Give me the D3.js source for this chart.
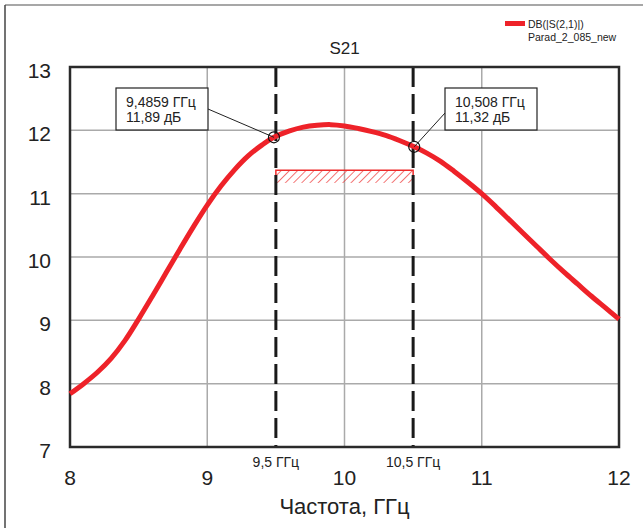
<!DOCTYPE html>
<html>
<head>
<meta charset="utf-8">
<script src="https://cdn.jsdelivr.net/npm/d3@7"></script>
<style>
  body { margin: 0; background: #fff; }
  svg { display: block; font-family: "Liberation Sans", Arial, sans-serif; }
</style>
</head>
<body>
<svg id="chart" width="643" height="528"></svg>
<script>
// S21 data
var freq = [8.0, 8.1, 8.2, 8.3, 8.4, 8.5, 8.6, 8.7, 8.8, 8.9, 9.0, 9.1, 9.2, 9.3, 9.4, 9.4859,
            9.6, 9.7, 9.8, 9.9, 10.0, 10.1, 10.2, 10.3, 10.4, 10.508, 10.6, 10.7, 10.8, 10.9,
            11.0, 11.1, 11.2, 11.3, 11.4, 11.5, 11.6, 11.7, 11.8, 11.9, 12.0];
var s21  = [7.84, 8.0, 8.18, 8.4, 8.68, 9.02, 9.38, 9.75, 10.12, 10.48, 10.82, 11.12, 11.38, 11.6, 11.77, 11.89,
            11.99, 12.05, 12.08, 12.09, 12.07, 12.03, 11.98, 11.92, 11.84, 11.74, 11.64, 11.51, 11.35, 11.18,
            11.0, 10.8, 10.59, 10.38, 10.17, 9.96, 9.76, 9.57, 9.38, 9.2, 9.02];

var xTicks = [8, 9, 10, 11, 12];
var yTicks = [7, 8, 9, 10, 11, 12, 13];

// markers
var markFreq = [9.4859, 10.508];
var markVal = [11.89, 11.74];
var markText = [["9,4859 ГГц", "11,89 дБ"], ["10,508 ГГц", "11,32 дБ"]];

// band limits (dashed lines) and spec box
var bandFreq = [9.5, 10.5];
var bandText = ["9,5 ГГц", "10,5 ГГц"];
var specLow = 11.17, specHigh = 11.37;

var svg = d3.select("#chart");

var x = d3.scaleLinear().domain([8, 12]).range([70, 619]);
var y = d3.scaleLinear().domain([7, 13]).range([447, 67]);

// outer frame
svg.append("line").attr("x1", 5).attr("x2", 643).attr("y1", 5).attr("y2", 5)
  .attr("stroke", "#8a8a8a").attr("stroke-width", 1.5);
svg.append("line").attr("x1", 5).attr("x2", 5).attr("y1", 5).attr("y2", 528)
  .attr("stroke", "#444").attr("stroke-width", 1.5);

// grid
svg.append("g").selectAll("line")
  .data(xTicks.slice(1, -1)).enter().append("line")
    .attr("x1", function(d) { return x(d); }).attr("x2", function(d) { return x(d); })
    .attr("y1", y(13)).attr("y2", y(7))
    .attr("stroke", "#aaa").attr("stroke-width", 1.5);
svg.append("g").selectAll("line")
  .data(yTicks.slice(1, -1)).enter().append("line")
    .attr("x1", x(8)).attr("x2", x(12))
    .attr("y1", function(d) { return y(d); }).attr("y2", function(d) { return y(d); })
    .attr("stroke", "#aaa").attr("stroke-width", 1.5);

// tick labels
svg.append("g").selectAll("text")
  .data(yTicks).enter().append("text")
    .attr("x", 51).attr("y", function(d) { return y(d) + 11; })
    .attr("text-anchor", "end").attr("font-size", 21).attr("fill", "#222")
    .text(function(d) { return d; });
svg.append("g").selectAll("text")
  .data(xTicks).enter().append("text")
    .attr("x", function(d) { return x(d); }).attr("y", 485)
    .attr("text-anchor", "middle").attr("font-size", 21).attr("fill", "#222")
    .text(function(d) { return d; });

svg.append("text").attr("x", x(10)).attr("y", 514)
  .attr("text-anchor", "middle").attr("font-size", 22).attr("fill", "#222")
  .attr("font-family", "'Liberation Sans Narrow', 'Liberation Sans', sans-serif")
  .text("Частота, ГГц");

svg.append("text").attr("x", x(10)).attr("y", 54)
  .attr("text-anchor", "middle").attr("font-size", 17).attr("fill", "#222")
  .text("S21");

// hatch pattern for spec box
var defs = svg.append("defs");
var pat = defs.append("pattern").attr("id", "hatch")
  .attr("patternUnits", "userSpaceOnUse").attr("width", 5.8).attr("height", 5.8)
  .attr("patternTransform", "rotate(45)");
pat.append("line").attr("x1", 0).attr("y1", 0).attr("x2", 0).attr("y2", 5.8)
  .attr("stroke", "#ee2a2a").attr("stroke-width", 1.3);

svg.append("rect")
  .attr("x", x(bandFreq[0])).attr("y", y(specHigh))
  .attr("width", x(bandFreq[1]) - x(bandFreq[0]))
  .attr("height", y(specLow) - y(specHigh))
  .attr("fill", "url(#hatch)");
// red outline: top edge and the two sides
svg.append("path")
  .attr("d", "M" + x(bandFreq[0]) + "," + y(specLow) +
             "V" + y(specHigh) + "H" + x(bandFreq[1]) + "V" + y(specLow))
  .attr("fill", "none")
  .attr("stroke", "#ee2a2a").attr("stroke-width", 1.5);

// dashed band lines
svg.append("g").selectAll("line")
  .data(bandFreq).enter().append("line")
    .attr("x1", function(d) { return x(d); }).attr("x2", function(d) { return x(d); })
    .attr("y1", y(13)).attr("y2", y(7))
    .attr("stroke", "#1a1a1a").attr("stroke-width", 3)
    .attr("stroke-dasharray", "20,7");
svg.append("g").selectAll("text")
  .data(bandFreq).enter().append("text")
    .attr("x", function(d) { return x(d); }).attr("y", 467)
    .attr("text-anchor", "middle").attr("font-size", 14).attr("fill", "#222")
    .attr("font-family", "'Liberation Sans Narrow', 'Liberation Sans', sans-serif")
    .text(function(d, i) { return bandText[i]; });

// plot frame
svg.append("rect")
  .attr("x", x(8)).attr("y", y(13))
  .attr("width", x(12) - x(8)).attr("height", y(7) - y(13))
  .attr("fill", "none").attr("stroke", "#2a2a2a").attr("stroke-width", 2.5);

// curve
var line = d3.line()
  .x(function(d, i) { return x(freq[i]); })
  .y(function(d) { return y(d); })
  .curve(d3.curveCatmullRom.alpha(0.5));

svg.append("path")
  .datum(s21)
  .attr("d", line)
  .attr("fill", "none")
  .attr("stroke", "#ee2229")
  .attr("stroke-width", 5);

// marker callouts
var boxX = [116, 445];
var boxW = [92, 92];
var boxTop = 88, boxH = 42;
var leadFrom = [[208, 109], [445, 113]];

for (var i = 0; i < markFreq.length; i++) {
  svg.append("line")
    .attr("x1", leadFrom[i][0]).attr("y1", leadFrom[i][1])
    .attr("x2", x(markFreq[i])).attr("y2", y(markVal[i]))
    .attr("stroke", "#222").attr("stroke-width", 1);
  svg.append("rect")
    .attr("x", boxX[i]).attr("y", boxTop).attr("width", boxW[i]).attr("height", boxH)
    .attr("fill", "#fff").attr("stroke", "#222").attr("stroke-width", 1.2);
  svg.append("text").attr("x", boxX[i] + 10).attr("y", boxTop + 19)
    .attr("font-size", 14).attr("fill", "#222").text(markText[i][0]);
  svg.append("text").attr("x", boxX[i] + 10).attr("y", boxTop + 34)
    .attr("font-size", 14).attr("fill", "#222").text(markText[i][1]);
  svg.append("circle")
    .attr("cx", x(markFreq[i])).attr("cy", y(markVal[i])).attr("r", 5.5)
    .attr("fill", "none").attr("stroke", "#111").attr("stroke-width", 1.2);
}

// legend
svg.append("rect").attr("x", 505).attr("y", 21).attr("width", 20).attr("height", 5)
  .attr("fill", "#ee2229");
svg.append("text").attr("x", 528).attr("y", 28).attr("font-size", 10.5).attr("fill", "#222")
  .text("DB(|S(2,1)|)");
svg.append("text").attr("x", 528).attr("y", 41).attr("font-size", 10.5).attr("fill", "#222")
  .text("Parad_2_085_new");
</script>
</body>
</html>
